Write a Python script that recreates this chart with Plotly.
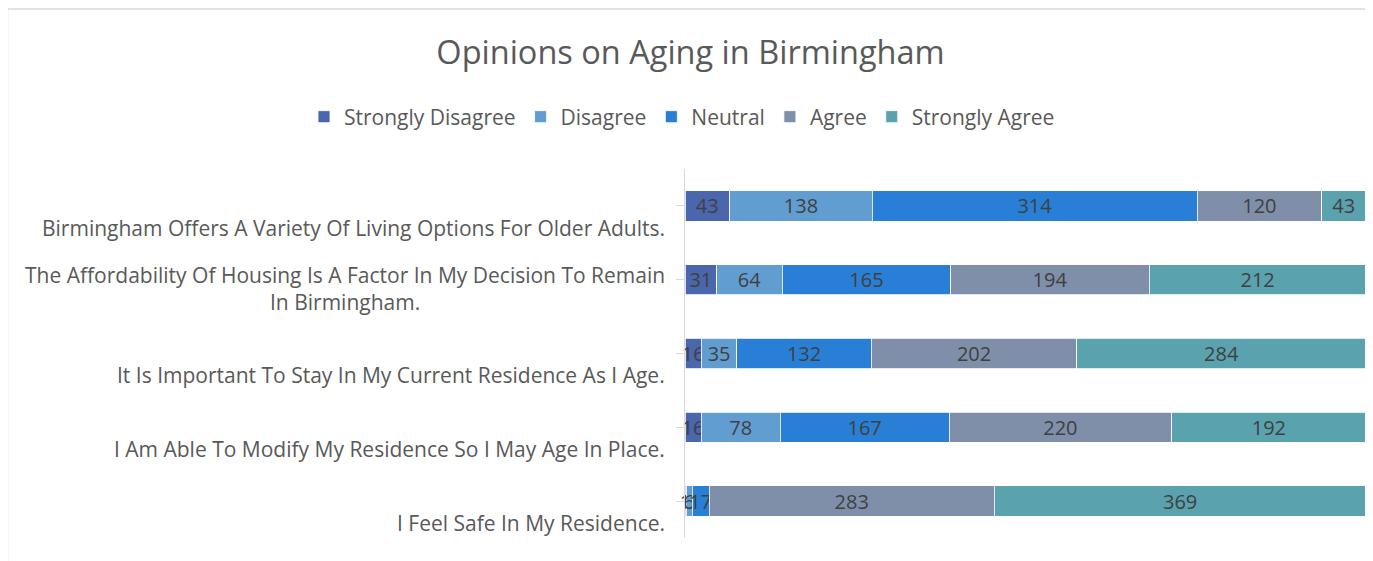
import plotly.graph_objects as go

categories = [
    "Birmingham Offers A Variety Of Living Options For Older Adults.",
    "The Affordability Of Housing Is A Factor In My Decision To Remain<br>In Birmingham.",
    "It Is Important To Stay In My Current Residence As I Age.",
    "I Am Able To Modify My Residence So I May Age In Place.",
    "I Feel Safe In My Residence.",
]
series_names = ["Strongly Disagree", "Disagree", "Neutral", "Agree", "Strongly Agree"]
strongly_disagree = [43, 31, 16, 16, 1]
disagree = [138, 64, 35, 78, 6]
neutral = [314, 165, 132, 167, 17]
agree = [120, 194, 202, 220, 283]
strongly_agree = [43, 212, 284, 192, 369]
title_text = "Opinions on Aging in Birmingham"

values = [strongly_disagree, disagree, neutral, agree, strongly_agree]
colors = ["#4A66AC", "#629DD1", "#297FD5", "#7F8FA9", "#5AA2AE"]
FONT = "Open Sans"

# page body adds an 8px offset; figure sized so the screen layout matches
W, H = 1365, 553
L, R, T, B = 677, 7, 161, 23
PW, PH = W - L - R, H - T - B

idx = list(range(len(categories)))
fig = go.Figure()
for name, vals, col in zip(series_names, values, colors):
    fig.add_trace(go.Bar(
        y=idx, x=vals, name=name, orientation="h",
        marker=dict(color=col, line=dict(color="white", width=0.8)),
        text=vals, texttemplate="%{text}", textposition="inside",
        insidetextanchor="middle", textangle=0,
        textfont=dict(family=FONT, size=20, color="#404040"),
        cliponaxis=False, hoverinfo="skip",
    ))

annotations = []
for i, lab in enumerate(categories):
    annotations.append(dict(
        x=0, xref="paper", xanchor="right", xshift=-18,
        y=i + 0.5, yref="y", yanchor="bottom", yshift=-1,
        text=lab, showarrow=False, align="center",
        font=dict(family=FONT, size=21, color="#595959"),
    ))

fig.update_layout(
    width=W, height=H,
    paper_bgcolor="white", plot_bgcolor="white",
    barmode="stack", barnorm="percent", bargap=0.59,
    margin=dict(l=L, r=R, t=T, b=B),
    title=dict(text=title_text, x=0.5, xref="container", xanchor="center",
               y=1 - 45 / H, yref="container", yanchor="middle",
               font=dict(family=FONT, size=32.5, color="#595959")),
    legend=dict(orientation="h", xref="paper", yref="paper",
                x=(296 - L) / PW, xanchor="left",
                y=(H - B - 109) / PH, yanchor="middle",
                font=dict(family=FONT, size=21, color="#595959"),
                traceorder="normal", itemwidth=30),
    uniformtext=dict(mode="show", minsize=20),
    xaxis=dict(range=[0, 100], visible=False, fixedrange=True),
    yaxis=dict(range=[len(categories) - 0.5, -0.5], tickmode="array",
               tickvals=idx, ticktext=[""] * len(idx), showticklabels=False,
               ticks="outside", tickson="boundaries", ticklen=8,
               tickcolor="#D9D9D9", showline=True, linecolor="#D9D9D9",
               linewidth=1, showgrid=False, zeroline=False),
    annotations=annotations,
    shapes=[dict(type="rect", xref="paper", yref="paper",
                 x0=(-0.5 - L) / PW, x1=(PW + 0.75) / PW,
                 y0=-(B + 20) / PH, y1=1 + (T - 1) / PH,
                 line=dict(color="#D9D9D9", width=1.5), layer="below")],
)

fig.write_html("out.html")
